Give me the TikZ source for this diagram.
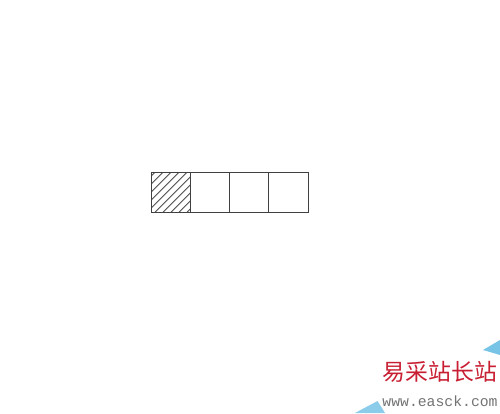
\documentclass[tikz,border=0pt]{standalone}
\usepackage{fontspec}
\newfontfamily\cjk{Noto Sans CJK SC}
\newfontfamily\wmfont{Liberation Mono}
\usetikzlibrary{positioning}
\definecolor{wmred}{RGB}{200,30,50}
\definecolor{wmblue}{RGB}{60,170,220}
\tikzset{
  cell/.style = {draw = black!75, shape = rectangle, minimum size = 0.785cm, inner sep = 0pt, outer sep = 0pt, line width = 0.5pt},
  hatch/.style = {draw = black!70, line width = 0.5pt}
}

\begin{document}
\begin{tikzpicture}
\useasboundingbox (0,0) rectangle (10,8.26);
\node[cell] (c1) at (3.415,4.41) {};
\node[cell, right = 0pt of c1] (c2) {};
\node[cell, right = 0pt of c2] (c3) {};
\node[cell, right = 0pt of c3] (c4) {};
% shaded part
\begin{scope}
\clip (c1.south west) rectangle (c1.north east);
\foreach \d in {-0.72,-0.56,...,0.74}
  \draw[hatch] ([xshift = \d cm]c1.south west) -- ++(0.9,0.9);
\end{scope}
\node[cell] at (c1) {};
% watermark
\fill[wmblue!70] (9.66,1.26) -- (10,1.46) -- (10,1.16) -- cycle;
\fill[wmblue!60] (7.10,0) -- (7.55,0.24) -- (7.70,0) -- cycle;
\node[text = wmred, font = \cjk\fontsize{13}{13}\selectfont] (wm1) at (8.80,0.82) {易采站长站};
\node[text = black!55, font = \wmfont\fontsize{8.4}{9}\selectfont, below = 0.02cm of wm1] (wm2) {www.easck.com};
\end{tikzpicture}
\end{document}
